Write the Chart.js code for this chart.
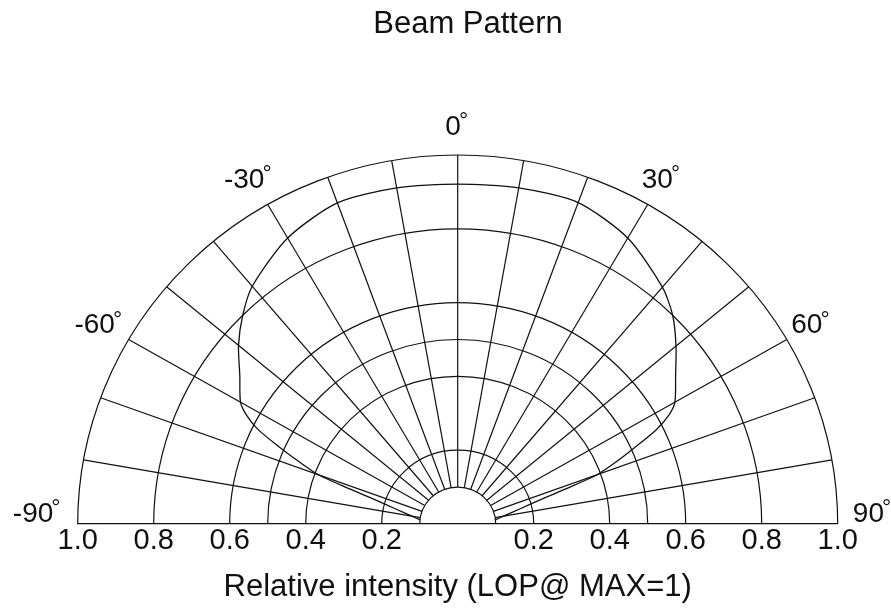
<!DOCTYPE html>
<html>
<head>
<meta charset="utf-8">
<title>Beam Pattern</title>
<script src="https://cdn.jsdelivr.net/npm/chart.js@4"></script>
<style>
  html, body { margin: 0; padding: 0; background: #fff; }
  #wrap { width: 891px; height: 613px; position: relative; }
</style>
</head>
<body>
<div id="wrap"><canvas id="beamChart"></canvas></div>
<script>
// Beam pattern (angle in degrees, relative intensity)
const angles = [-83.5, -80, -76, -73, -71.5, -70, -68, -66, -64, -62, -60, -55, -50, -45, -40, -30, -20, -10,
                0, 10, 20, 30, 40, 45, 50, 55, 60, 62, 64, 66, 68, 70, 71.5, 73, 76, 80, 83.5];
const intensity = [0.10, 0.122, 0.168, 0.233, 0.30, 0.39, 0.45, 0.515, 0.585, 0.63, 0.66, 0.70, 0.753, 0.80, 0.841, 0.895, 0.926, 0.925,
                   0.921, 0.925, 0.927, 0.895, 0.838, 0.80, 0.75, 0.70, 0.66, 0.63, 0.58, 0.51, 0.45, 0.39, 0.30, 0.233, 0.168, 0.122, 0.10];

// polar grid
const rings = [0.1, 0.2, 0.4, 0.5, 0.6, 0.8, 1.0];
const spokes = [-80, -70, -60, -50, -40, -30, -20, -10, 0, 10, 20, 30, 40, 50, 60, 70, 80];
const spokeFrom = 0.1;
const tickValues = [0.2, 0.4, 0.6, 0.8, 1.0];
const angleLabels = [-90, -60, -30, 0, 30, 60, 90];

const FONT = "'Liberation Sans', Arial, sans-serif";
const INK = '#111';
const rad = d => d * Math.PI / 180;

const polarGrid = {
    id: 'polarGrid',
    beforeDatasetsDraw(chart) {
        const { ctx, scales: { x, y } } = chart;
        const cx = x.getPixelForValue(0), cy = y.getPixelForValue(0);
        const kx = x.getPixelForValue(1) - cx, ky = cy - y.getPixelForValue(1);
        ctx.save();
        ctx.strokeStyle = INK;
        ctx.lineWidth = 1.2;
        rings.forEach(r => {
            ctx.beginPath();
            ctx.ellipse(cx, cy, r * kx, r * ky, 0, Math.PI, 2 * Math.PI);
            ctx.stroke();
        });
        spokes.forEach(a => {
            const s = Math.sin(rad(a)), c = Math.cos(rad(a));
            ctx.beginPath();
            ctx.moveTo(x.getPixelForValue(spokeFrom * s), y.getPixelForValue(spokeFrom * c));
            ctx.lineTo(x.getPixelForValue(s), y.getPixelForValue(c));
            ctx.stroke();
        });
        ctx.restore();
    },
    afterDraw(chart) {
        const { ctx, scales: { x, y } } = chart;
        const cy = y.getPixelForValue(0);
        ctx.save();
        ctx.fillStyle = INK;

        // chart title
        ctx.font = '31px ' + FONT;
        ctx.textAlign = 'center';
        ctx.textBaseline = 'middle';
        ctx.fillText('Beam Pattern', 468, 24);

        // angle labels round the outer ring (the two on the baseline sit a bit further out)
        ctx.textAlign = 'left';
        angleLabels.forEach(a => {
            const lr = Math.abs(a) === 90 ? 1.093 : 1.075;
            const px = x.getPixelForValue(lr * Math.sin(rad(a)));
            const py = Math.min(y.getPixelForValue(lr * Math.cos(rad(a))), cy - 10);
            const txt = String(a);
            ctx.font = '28px ' + FONT;
            const w = ctx.measureText(txt).width;
            const wMinus = a < 0 ? ctx.measureText('-').width : 0;
            ctx.font = '23px ' + FONT;
            const wDeg = ctx.measureText('°').width;
            const left = px - (w - wMinus + wDeg) / 2 - wMinus;
            ctx.font = '28px ' + FONT;
            ctx.textBaseline = 'middle';
            ctx.fillText(txt, left, py);
            ctx.font = '23px ' + FONT;
            ctx.textBaseline = 'alphabetic';
            ctx.fillText('°', left + w - 2, py + 1);
        });
        ctx.restore();
    }
};

const points = angles.map((a, i) => ({
    x: intensity[i] * Math.sin(rad(a)),
    y: intensity[i] * Math.cos(rad(a))
}));

new Chart(document.getElementById('beamChart'), {
    type: 'scatter',
    data: {
        datasets: [{
            label: 'Relative intensity',
            data: points,
            showLine: true,
            pointRadius: 0,
            borderColor: INK,
            borderWidth: 1.3,
            tension: 0.25
        }]
    },
    options: {
        responsive: true,
        maintainAspectRatio: false,
        animation: false,
        events: [],
        layout: { padding: { top: 155, left: 77.7, right: 53.3, bottom: 0 } },
        plugins: {
            legend: { display: false },
            tooltip: { enabled: false },
            title: { display: false }
        },
        scales: {
            x: {
                type: 'linear',
                min: -1,
                max: 1,
                grid: { display: false, drawTicks: false },
                border: { display: true, color: INK, width: 1.2 },
                afterBuildTicks: scale => {
                    scale.ticks = [...tickValues.map(v => -v).reverse(), ...tickValues].map(v => ({ value: v }));
                },
                ticks: {
                    padding: 0,
                    autoSkip: false,
                    maxRotation: 0,
                    color: INK,
                    font: { family: FONT, size: 29 },
                    callback: v => Math.abs(v).toFixed(1)
                },
                title: {
                    display: true,
                    text: 'Relative intensity (LOP@ MAX=1)',
                    color: INK,
                    font: { family: FONT, size: 31 },
                    padding: { top: 10, bottom: 7 }
                }
            },
            y: { type: 'linear', display: false, min: 0, max: 1 }
        }
    },
    plugins: [polarGrid]
});
</script>
</body>
</html>
